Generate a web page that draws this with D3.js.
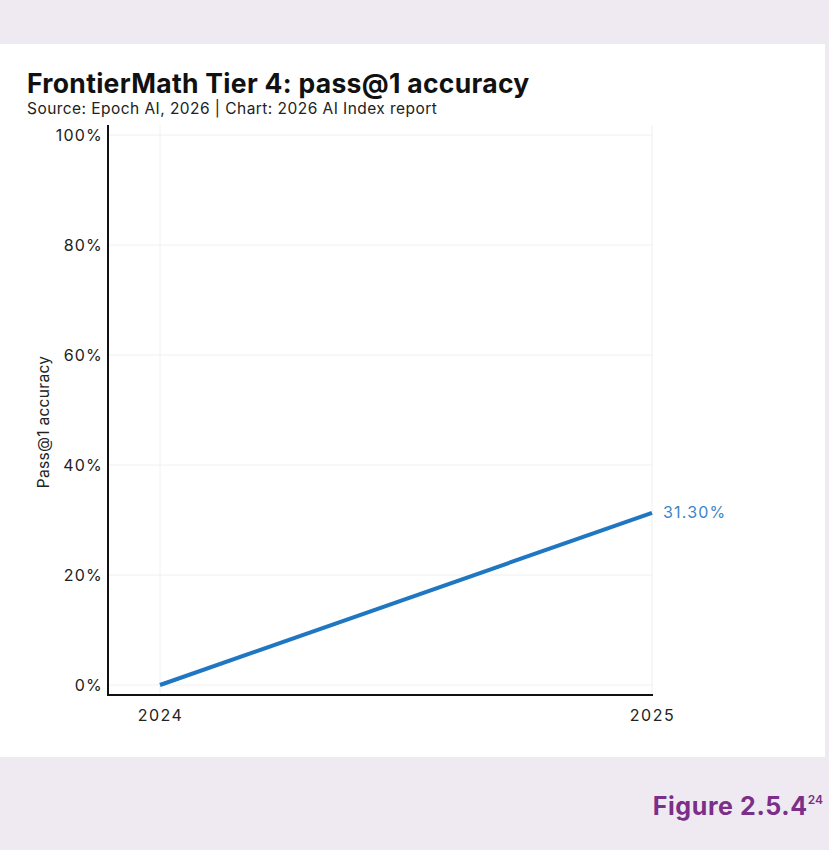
<!DOCTYPE html>
<html><head><meta charset="utf-8">
<script src="https://cdn.jsdelivr.net/npm/d3@7"></script>
<style>
html,body{margin:0;padding:0;background:#efeaf2;}
svg{display:block;}
</style></head>
<body>
<svg id="c" width="829" height="850"></svg>
<script>
const years = ["2024", "2025"];
const accuracy = [0.0, 31.3];
const yTicks = [0, 20, 40, 60, 80, 100];
const title = "FrontierMath Tier 4: pass@1 accuracy";
const subtitle = "Source: Epoch AI, 2026 | Chart: 2026 AI Index report";
const yLabel = "Pass@1 accuracy";
const endLabel = "31.30%";

const svg = d3.select("#c");
svg.append("rect").attr("x",0).attr("y",0).attr("width",829).attr("height",850).attr("fill","#efeaf2");
svg.append("rect").attr("x",0).attr("y",44).attr("width",825).attr("height",713).attr("fill","#ffffff");

const font = "Inter, 'Noto Sans', sans-serif";
svg.append("text").attr("x",27).attr("y",93).attr("font-family",font).attr("font-weight",700)
  .attr("font-size",26.5).attr("fill","#111").attr("letter-spacing","0.3").text(title);
svg.append("text").attr("x",27).attr("y",114).attr("font-family",font)
  .attr("font-size",15.5).attr("letter-spacing","0.45").attr("fill","#222").text(subtitle);

const x = d3.scalePoint().domain(years).range([160,652]);
const y = d3.scaleLinear().domain([0,100]).range([685,135]);

const g = svg.append("g");
// grid
g.selectAll(".hg").data(yTicks).join("line")
  .attr("x1",108).attr("x2",653).attr("y1",d=>y(d)).attr("y2",d=>y(d))
  .attr("stroke","#f0f0f0").attr("stroke-width",1);
g.selectAll(".vg").data(years).join("line")
  .attr("x1",d=>x(d)).attr("x2",d=>x(d)).attr("y1",125).attr("y2",695)
  .attr("stroke","#f0f0f0").attr("stroke-width",1);

// y axis
const ya = g.append("g").attr("transform","translate(108,0)")
  .call(d3.axisLeft(y).tickValues(yTicks).tickSize(0).tickPadding(5).tickFormat(d=>d+"%"));
ya.select(".domain").remove();
ya.selectAll("text").attr("font-family",font).attr("font-size",16).attr("letter-spacing","1.2").attr("fill","#222");
g.append("line").attr("x1",108).attr("x2",108).attr("y1",125).attr("y2",696)
  .attr("stroke","#111").attr("stroke-width",2);

// x axis
const xa = g.append("g").attr("transform","translate(0,696)")
  .call(d3.axisBottom(x).tickSize(0).tickPadding(14));
xa.select(".domain").remove();
xa.selectAll("text").attr("font-family",font).attr("font-size",16).attr("letter-spacing","1.5").attr("fill","#222");
g.append("line").attr("x1",107).attr("x2",653).attr("y1",695).attr("y2",695)
  .attr("stroke","#111").attr("stroke-width",2);

// y label
svg.append("text").attr("transform","translate(49,422) rotate(-90)").attr("text-anchor","middle")
  .attr("font-family",font).attr("font-size",15.5).attr("letter-spacing","0.3").attr("fill","#222").text(yLabel);

// line
const data = years.map((yr,i)=>({yr, v:accuracy[i]}));
g.append("path").datum(data)
  .attr("d", d3.line().x(d=>x(d.yr)).y(d=>y(d.v)))
  .attr("fill","none").attr("stroke","#1f77c2").attr("stroke-width",4).attr("stroke-linecap","butt");

const last = data[data.length-1];
g.append("text").attr("x",x(last.yr)+11).attr("y",y(last.v)).attr("dy","0.35em")
  .attr("font-family",font).attr("font-size",16).attr("letter-spacing","1.2").attr("fill","#3a86c8").text(endLabel);

// figure label
const fl = svg.append("text").attr("x",823).attr("y",815).attr("text-anchor","end")
  .attr("font-family",font).attr("font-weight",700).attr("fill","#7b2f88");
fl.append("tspan").attr("font-size",25).attr("letter-spacing","0.6").text("Figure 2.5.4");
fl.append("tspan").attr("font-size",12).attr("font-weight",600).attr("dy",-11).text("24");
</script>
</body></html>
